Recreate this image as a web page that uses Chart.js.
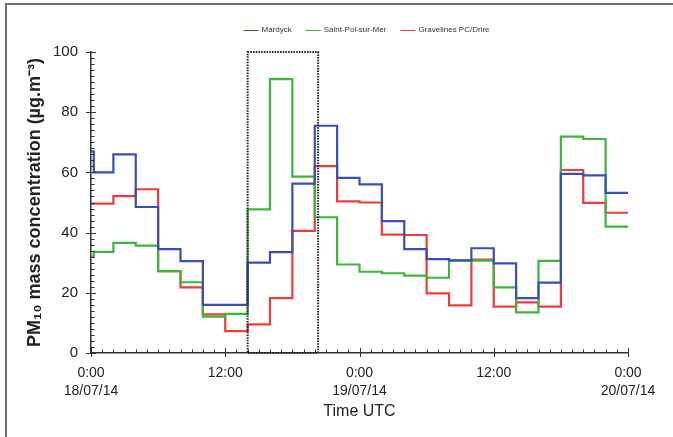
<!DOCTYPE html>
<html>
<head>
<meta charset="utf-8">
<script src="https://cdn.jsdelivr.net/npm/chart.js@4.4.0/dist/chart.umd.min.js"></script>
<style>
  html, body { margin: 0; padding: 0; background: #fff; }
  #wrap { width: 673px; height: 437px; position: relative; }
</style>
</head>
<body>
<div id="wrap"><canvas id="pmChart" width="673" height="437"></canvas></div>
<script>
// hours since 18/07/14 0:00 UTC, start of each step
const stepHours = [0, 0.25, 2, 4, 6, 8, 10, 12, 14, 16, 18, 20, 22, 24, 26, 28, 30, 32, 34, 36, 38, 40, 42, 44, 46];
const endHour = 48;

const mardyck = [67, 60, 66, 48.5, 34.5, 30.5, 16, 16, 30, 33.5, 56.3, 75.5, 58.2, 56, 43.8, 34.5, 31.2, 30.8, 34.8, 29.8, 18.2, 23.4, 59.5, 59, 53.2];
const saintPol = [32, 33.6, 36.6, 35.7, 27.2, 23.5, 12.1, 13, 47.7, 91, 58.6, 45.1, 29.4, 27, 26.5, 25.7, 25, 30.7, 30.7, 21.8, 13.5, 30.6, 71.9, 71.1, 42];
const gravelines = [49.6, 49.6, 52.1, 54.4, 27.2, 21.8, 12.8, 7.3, 9.5, 18.2, 40.6, 62.1, 50.4, 50, 39.3, 39.2, 19.8, 15.8, 31, 15.4, 16.8, 15.4, 60.8, 49.9, 46.6];

const seriesNames = ['Mardyck', 'Saint-Pol-sur-Mer', 'Gravelines PC/Drire'];

// x tick labels every 12 h
const majorHours = [0, 12, 24, 36, 48];
const majorTimes = ['0:00', '12:00', '0:00', '12:00', '0:00'];
const majorDates = ['18/07/14', '', '19/07/14', '', '20/07/14'];

// highlighted period (hours) spanning the full y range
const boxHours = [14, 20.3];
const yRange = [0, 100];

const colors = { blue: '#3a4fb5', green: '#3db53d', red: '#ef3b3b', axis: '#333333' };
const FONT = "'Liberation Sans', Arial, sans-serif";

function toSteps(values) {
    const pts = stepHours.map((h, i) => ({ x: h, y: values[i] }));
    pts.push({ x: endHour, y: values[values.length - 1] });
    return pts;
}

const decorPlugin = {
    id: 'decor',
    beforeDraw(chart) {
        const ctx = chart.ctx;
        ctx.save();
        ctx.fillStyle = '#fff';
        ctx.fillRect(0, 0, chart.width, chart.height);
        // scanned page frame
        ctx.strokeStyle = '#6e6e6e';
        ctx.lineWidth = 2;
        ctx.beginPath();
        ctx.moveTo(6, chart.height);
        ctx.lineTo(6, 4);
        ctx.lineTo(chart.width, 4);
        ctx.stroke();
        ctx.restore();
    },
    afterDraw(chart) {
        const ctx = chart.ctx;
        const xs = chart.scales.x, ys = chart.scales.y;
        const area = chart.chartArea;
        ctx.save();

        // --- tick marks: minor inside, major crossing ---
        ctx.strokeStyle = colors.axis;
        ctx.lineWidth = 1;
        ctx.beginPath();
        xs.ticks.forEach(t => {
            const px = Math.round(xs.getPixelForValue(t.value)) + 0.5;
            const major = t.value % 12 === 0;
            ctx.moveTo(px, area.bottom - (major ? 5 : 3.5));
            ctx.lineTo(px, area.bottom + (major ? 4 : 0));
        });
        ys.ticks.forEach(t => {
            const py = Math.round(ys.getPixelForValue(t.value)) + 0.5;
            const major = t.value % 20 === 0;
            ctx.moveTo(area.left + (major ? 5 : 3.5), py);
            ctx.lineTo(area.left - (major ? 5 : 0), py);
        });
        ctx.stroke();

        // --- dotted box ---
        const bx0 = xs.getPixelForValue(boxHours[0]);
        const bx1 = xs.getPixelForValue(boxHours[1]);
        const by0 = ys.getPixelForValue(yRange[1]);
        const by1 = ys.getPixelForValue(yRange[0]);
        ctx.strokeStyle = '#222';
        ctx.lineWidth = 2;
        ctx.setLineDash([1.5, 1.2]);
        ctx.strokeRect(bx0, by0, bx1 - bx0, by1 - by0);
        ctx.setLineDash([]);

        // --- legend ---
        ctx.font = '8px ' + FONT;
        ctx.textBaseline = 'middle';
        ctx.fillStyle = '#333';
        const lineLen = 15, gap = 3, spacing = 14;
        const items = chart.data.datasets.map(d => ({ text: d.label, color: d.borderColor, w: ctx.measureText(d.label).width }));
        const total = items.reduce((s, it) => s + lineLen + gap + it.w, 0) + spacing * (items.length - 1);
        let lx = chart.width / 2 + 30 - total / 2;
        const ly = 30;
        items.forEach(it => {
            ctx.strokeStyle = it.color;
            ctx.lineWidth = 1;
            ctx.beginPath();
            ctx.moveTo(lx, ly + 0.5);
            ctx.lineTo(lx + lineLen, ly + 0.5);
            ctx.stroke();
            ctx.fillText(it.text, lx + lineLen + gap, ly);
            lx += lineLen + gap + it.w + spacing;
        });
        ctx.restore();
    }
};

const ctx = document.getElementById('pmChart');
new Chart(ctx, {
    type: 'line',
    data: {
        datasets: [
            { label: seriesNames[0], data: toSteps(mardyck), borderColor: colors.blue },
            { label: seriesNames[1], data: toSteps(saintPol), borderColor: colors.green },
            { label: seriesNames[2], data: toSteps(gravelines), borderColor: colors.red }
        ].map(d => Object.assign(d, { stepped: 'before', borderWidth: 2.2, pointRadius: 0, fill: false }))
    },
    options: {
        responsive: false,
        animation: false,
        layout: { padding: { top: 52, right: 45, left: 0, bottom: 0 } },
        plugins: { legend: { display: false }, tooltip: { enabled: false } },
        scales: {
            x: {
                type: 'linear',
                min: 0,
                max: endHour,
                grid: { display: false, drawTicks: false },
                border: { display: true, color: colors.axis, width: 1.5 },
                ticks: {
                    stepSize: 1,
                    autoSkip: false,
                    maxRotation: 0,
                    padding: 11,
                    color: '#222',
                    font: { family: FONT, size: 14, lineHeight: 1.3 },
                    callback: v => {
                        const i = majorHours.indexOf(v);
                        if (i < 0) return '';
                        return majorDates[i] ? [majorTimes[i], majorDates[i]] : majorTimes[i];
                    }
                },
                title: {
                    display: true,
                    text: 'Time UTC',
                    color: '#222',
                    font: { family: FONT, size: 16 },
                    padding: { top: 0, bottom: 16 }
                },
                afterFit: s => { s.height = 84; }
            },
            y: {
                min: yRange[0],
                max: yRange[1],
                grid: { display: false, drawTicks: false },
                border: { display: true, color: colors.axis, width: 1.5 },
                ticks: {
                    stepSize: 2,
                    autoSkip: false,
                    padding: 13,
                    color: '#222',
                    font: { family: FONT, size: 15 },
                    callback: v => (v % 20 === 0 ? v : '')
                },
                title: {
                    display: true,
                    text: 'PM₁₀ mass concentration (µg.m⁻³)',
                    color: '#222',
                    font: { family: FONT, size: 18, weight: 'bold' },
                    padding: { top: 24, bottom: 0 }
                },
                afterFit: s => { s.width = 91; }
            }
        }
    },
    plugins: [decorPlugin]
});
</script>
</body>
</html>
